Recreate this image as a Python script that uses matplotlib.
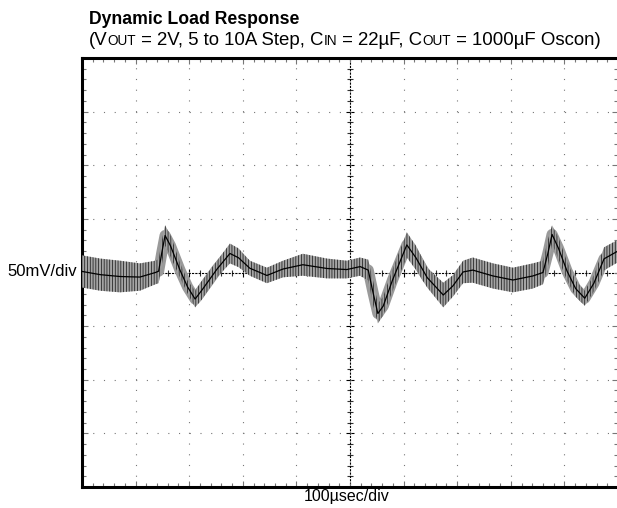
import matplotlib
matplotlib.use('Agg')
import matplotlib.pyplot as plt
import matplotlib.ticker as mticker

plt.rcParams['font.family'] = ['Liberation Sans', 'DejaVu Sans']
plt.rcParams['hatch.linewidth'] = 0.5

# scope trace envelope in divisions
t_div = [0.00, 0.34, 0.71, 1.08, 1.37, 1.43, 1.49, 1.55, 1.65, 1.83, 1.97, 2.11,
         2.24, 2.52, 2.76, 2.92, 3.13, 3.45, 3.75, 4.12, 4.57, 4.94, 5.19, 5.34,
         5.43, 5.52, 5.62, 5.79, 6.06, 6.23, 6.44, 6.74, 6.92, 7.11, 7.29, 7.67,
         8.04, 8.41, 8.60, 8.69, 8.77, 8.89, 9.05, 9.21, 9.38, 9.55, 9.74, 9.98]
upper_div = [0.32, 0.26, 0.22, 0.17, 0.22, 0.25, 0.60, 0.88, 0.70, 0.18, -0.15, -0.34,
             -0.15, 0.22, 0.54, 0.45, 0.22, 0.09, 0.22, 0.35, 0.26, 0.22, 0.28, 0.24,
             -0.15, -0.58, -0.45, 0.05, 0.75, 0.50, 0.09, -0.19, -0.05, 0.22, 0.28, 0.17,
             0.09, 0.17, 0.22, 0.60, 0.88, 0.65, 0.20, -0.15, -0.34, -0.05, 0.47, 0.60]
lower_div = [-0.28, -0.34, -0.37, -0.34, -0.22, -0.20, 0.15, 0.50, 0.30, -0.10, -0.39, -0.65,
             -0.50, -0.09, 0.17, 0.10, -0.06, -0.20, -0.09, -0.06, -0.11, -0.11, -0.06, -0.15,
             -0.60, -0.95, -0.80, -0.35, 0.28, 0.05, -0.28, -0.65, -0.45, -0.20, -0.19, -0.30,
             -0.37, -0.30, -0.22, 0.10, 0.54, 0.25, -0.15, -0.45, -0.62, -0.35, 0.04, 0.18]

W, H = 617, 508
fig = plt.figure(figsize=(W / 100, H / 100), dpi=100)
rect = [82 / W, 21 / H, 536 / W, 429 / H]

# center cross with tick marks (behind the trace)
ax2 = fig.add_axes(rect)
ax2.set_xlim(0, 10)
ax2.set_ylim(-4, 4)
ax2.patch.set_visible(False)
for s in ['top', 'right']:
    ax2.spines[s].set_visible(False)
ax2.spines['left'].set_position(('data', 5))
ax2.spines['bottom'].set_position(('data', 0))
for s in ['left', 'bottom']:
    ax2.spines[s].set_linestyle((0, (1, 2)))
    ax2.spines[s].set_linewidth(0.8)
ax2.xaxis.set_major_locator(mticker.MultipleLocator(1))
ax2.xaxis.set_minor_locator(mticker.MultipleLocator(0.2))
ax2.yaxis.set_major_locator(mticker.MultipleLocator(1))
ax2.yaxis.set_minor_locator(mticker.MultipleLocator(0.2))
ax2.tick_params(which='major', direction='inout', length=6, width=0.8, color='black',
                labelbottom=False, labelleft=False)
ax2.tick_params(which='minor', direction='inout', length=4, width=0.8, color='#333333')

ax = fig.add_axes(rect)
ax.set_zorder(2)
ax.patch.set_visible(False)
ax.set_xlim(0, 10)
ax.set_ylim(-4, 4)
ax.xaxis.set_major_locator(mticker.FixedLocator([1, 2, 3, 4, 6, 7, 8, 9]))
ax.yaxis.set_major_locator(mticker.FixedLocator([-3, -2, -1, 1, 2, 3]))
ax.xaxis.set_minor_locator(mticker.MultipleLocator(0.2))
ax.yaxis.set_minor_locator(mticker.MultipleLocator(0.2))
ax.grid(True, which='major', color='#777777', linewidth=0.8, linestyle=(0, (1, 8.65)))
ax.tick_params(which='both', direction='in', top=True, right=True, color='#777777',
               labelbottom=False, labelleft=False, width=0.8)
ax.tick_params(which='major', length=4)
ax.tick_params(which='minor', length=3)
for s in ['left', 'top', 'bottom']:
    ax.spines[s].set_linewidth(2.2)
ax.spines['right'].set_visible(False)

# noisy band: envelope plus a fixed-width stroke so the steep edges keep their thickness
mid = [(u + l) / 2 for u, l in zip(upper_div, lower_div)]
ax.plot(t_div, mid, color='#9a9a9a', linewidth=8, solid_joinstyle='round',
        solid_capstyle='butt', zorder=3)
ax.fill_between(t_div, lower_div, upper_div, facecolor='#a4a4a4', edgecolor='#111111',
                hatch='||||||', linewidth=0, zorder=3)
ax.plot(t_div, mid, color='black', linewidth=0.9, zorder=4)

fig.text(77 / W, 1 - 272 / H, '50mV/div', fontsize=12, ha='right', va='center')
fig.text(347 / W, 1 - 497 / H, '100µsec/div', fontsize=11.5, ha='center', va='center')

fig.text(89 / W, 1 - 24 / H, 'Dynamic Load Response', fontsize=12.7, fontweight='bold',
         va='baseline')
y_sub = 1 - 45 / H
parts = [('(V', 13.4), ('OUT', 9.8), (' = 2V, 5 to 10A Step, C', 13.4), ('IN', 9.8),
         (' = 22µF, C', 13.4), ('OUT', 9.8), (' = 1000µF Oscon)', 13.4)]
prev = fig.text(89 / W, y_sub, parts[0][0], fontsize=parts[0][1], va='baseline')
for txt, fs in parts[1:]:
    prev = ax.annotate(txt, xy=(1, y_sub), xycoords=(prev, 'figure fraction'),
                       fontsize=fs, va='baseline', ha='left', annotation_clip=False)

fig.savefig('out.png', dpi=100)
